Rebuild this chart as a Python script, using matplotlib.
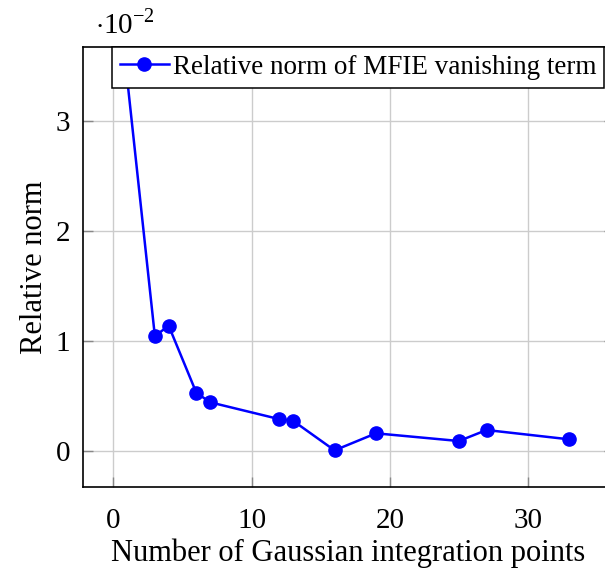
import numpy as np
import matplotlib.pyplot as plt
from matplotlib.ticker import FuncFormatter

plt.rcParams['font.family'] = ['Liberation Serif', 'DejaVu Serif']
plt.rcParams['mathtext.fontset'] = 'custom'
plt.rcParams['mathtext.rm'] = 'Liberation Serif'

# gaussian points vs relative norm of the vanishing term
n_points = [1, 3, 4, 6, 7, 12, 13, 16, 19, 25, 27, 33]
rel_norm = [0.0338, 0.01045, 0.01139, 0.0053, 0.00443, 0.0029, 0.00275,
            0.00006, 0.00161, 0.00091, 0.00191, 0.00106]

fig = plt.figure(figsize=(6.05, 5.72), dpi=100)
ax = fig.add_axes([83 / 605, 85 / 572, 530.7 / 605, 440 / 572])

ax.plot(n_points, rel_norm, color='#0000ff', lw=1.8, marker='o', ms=9.5,
        label='Relative norm of MFIE vanishing term', zorder=3)

ax.set_xlim(-2.2, 36.2)
ax.set_ylim(-0.00327, 0.03673)
ax.set_xticks([0, 10, 20, 30])
ax.set_yticks([0, 0.01, 0.02, 0.03])
ax.yaxis.set_major_formatter(FuncFormatter(lambda v, p: f'{v * 100:g}'))
ax.grid(True, color='#cccccc', lw=1)
ax.set_axisbelow(True)
ax.tick_params(direction='in', length=7.5, width=1, color='#888888',
               labelsize=21, top=True, right=True)
ax.tick_params(axis='x', pad=15)
ax.tick_params(axis='y', pad=9)
for s in ax.spines.values():
    s.set_linewidth(1.2)
# right edge of the frame lies outside the canvas
ax.spines['right'].set_visible(False)

ax.set_xlabel('Number of Gaussian integration points', fontsize=22, labelpad=3)
ax.set_ylabel('Relative norm', fontsize=22, labelpad=5)
fig.text(95 / 605, 1 - 24 / 572, r'$\cdot 10^{-2}$', fontsize=21, va='center')

leg = ax.legend(loc='upper left', bbox_to_anchor=(111.7 / 605, 1 - 46.5 / 572),
                bbox_transform=fig.transFigure, borderaxespad=0, fontsize=19.5,
                fancybox=False, framealpha=1, edgecolor='black',
                handlelength=1.8, handletextpad=0.15, borderpad=0.3)
leg.get_frame().set_linewidth(1.1)
leg.set_zorder(5)

fig.savefig('out.png', dpi=100)
